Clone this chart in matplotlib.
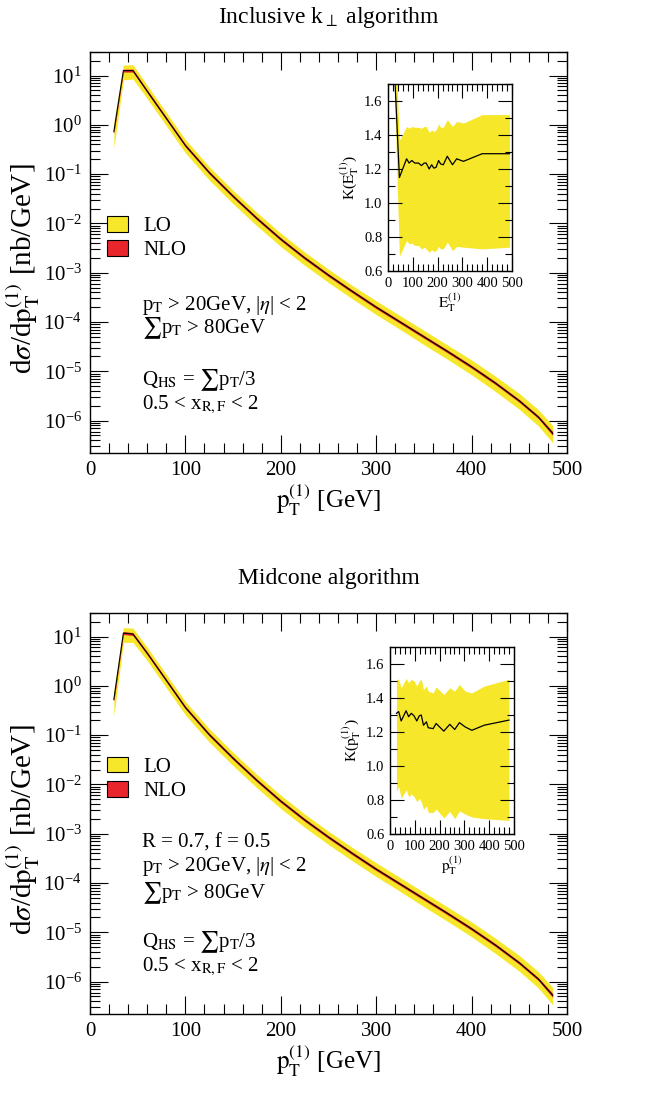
import matplotlib
matplotlib.use("Agg")
import numpy as np
import matplotlib.pyplot as plt
from matplotlib.patches import Patch
from matplotlib.ticker import (MultipleLocator, LogLocator, LogFormatterMathtext,
                               NullFormatter, FormatStrFormatter)

plt.rcParams['font.family'] = ['Liberation Serif', 'DejaVu Serif']
plt.rcParams['mathtext.fontset'] = 'stix'

YELLOW = '#f6e72a'
RED = '#e8262b'

# leading jet pT bins [GeV]
pt = [25, 35, 45, 60, 80, 100, 125, 150, 175, 200, 225, 250, 275, 300,
      325, 350, 375, 400, 425, 450, 470, 485]

# log10 of NLO dsigma/dpT [nb/GeV], inclusive kT
kt_nlo = [-0.14, 1.10, 1.10, 0.68, 0.13, -0.42, -0.97, -1.45, -1.90, -2.32,
          -2.70, -3.05, -3.38, -3.70, -4.00, -4.30, -4.60, -4.91, -5.24,
          -5.60, -5.93, -6.26]
# log10 of NLO dsigma/dpT [nb/GeV], midcone
mc_nlo = [-0.28, 1.07, 1.05, 0.66, 0.11, -0.44, -0.99, -1.47, -1.92, -2.34,
          -2.72, -3.07, -3.40, -3.72, -4.02, -4.32, -4.62, -4.93, -5.26,
          -5.62, -5.95, -6.28]

# LO scale band, decades above / below the NLO line
lo_up = [0.20, 0.11, 0.12, 0.12, 0.12, 0.12, 0.12, 0.12, 0.12, 0.12, 0.12,
         0.12, 0.12, 0.13, 0.13, 0.13, 0.13, 0.14, 0.14, 0.15, 0.15, 0.16]
lo_dn = [0.33, 0.19, 0.17, 0.15, 0.15, 0.15, 0.15, 0.15, 0.15, 0.15, 0.15,
         0.15, 0.15, 0.15, 0.15, 0.16, 0.16, 0.16, 0.17, 0.17, 0.18, 0.19]
# NLO scale band half width in decades
nlo_w = [0.04, 0.03, 0.03, 0.03, 0.03, 0.03, 0.03, 0.03, 0.03, 0.03, 0.03,
         0.03, 0.03, 0.03, 0.03, 0.03, 0.03, 0.03, 0.03, 0.03, 0.03, 0.04]

# K factor, inclusive kT
kt_kx = [27, 46, 75, 85, 96, 108, 123, 135, 146, 154, 166, 176, 185, 194,
         204, 212, 223, 239, 260, 277, 304, 380, 490]
kt_k = [1.75, 1.15, 1.26, 1.235, 1.25, 1.235, 1.235, 1.22, 1.235, 1.235,
        1.20, 1.225, 1.205, 1.21, 1.25, 1.23, 1.225, 1.275, 1.225, 1.26,
        1.245, 1.29, 1.29]
kt_k_hi = [2.0, 1.37, 1.45, 1.44, 1.45, 1.445, 1.445, 1.44, 1.45, 1.45,
           1.415, 1.43, 1.42, 1.43, 1.465, 1.445, 1.445, 1.49, 1.45, 1.48,
           1.47, 1.52, 1.52]
kt_k_lo = [1.6, 0.687, 0.78, 0.76, 0.765, 0.75, 0.75, 0.73, 0.74, 0.73,
           0.71, 0.725, 0.715, 0.72, 0.745, 0.73, 0.73, 0.77, 0.72, 0.745,
           0.74, 0.73, 0.74]

# K factor, midcone
mc_kx = [26, 35, 45, 65, 75, 86, 97, 108, 118, 126, 135, 147, 154, 174, 186,
         217, 241, 261, 280, 303, 330, 380, 480]
mc_k = [1.31, 1.32, 1.265, 1.325, 1.29, 1.31, 1.295, 1.265, 1.295, 1.30,
        1.24, 1.26, 1.225, 1.22, 1.25, 1.205, 1.245, 1.215, 1.255, 1.23,
        1.21, 1.24, 1.27]
mc_k_hi = [1.51, 1.51, 1.46, 1.515, 1.49, 1.51, 1.50, 1.47, 1.50, 1.51,
           1.45, 1.47, 1.44, 1.43, 1.465, 1.42, 1.46, 1.44, 1.48, 1.44,
           1.43, 1.47, 1.51]
mc_k_lo = [0.852, 0.88, 0.81, 0.86, 0.82, 0.835, 0.82, 0.79, 0.81, 0.79,
           0.746, 0.765, 0.727, 0.727, 0.746, 0.695, 0.733, 0.69, 0.736,
           0.717, 0.70, 0.69, 0.68]

W, H = 648, 1094
fig = plt.figure(figsize=(W / 100, H / 100), dpi=100)


def px_axes(x0, y0, x1, y1):
    return fig.add_axes([x0 / W, 1 - y1 / H, (x1 - x0) / W, (y1 - y0) / H])


def style_ticks(ax, size, major_len, minor_len):
    ax.tick_params(which='both', direction='in', top=True, right=True,
                   labelsize=size, width=0.8, pad=6)
    ax.tick_params(which='major', length=major_len)
    ax.tick_params(which='minor', length=minor_len)
    for s in ax.spines.values():
        s.set_linewidth(1.0)


def spectrum(ax, nlo, title, notes, leg_top):
    x = np.array(pt)
    y = np.array(nlo)
    ax.fill_between(x, 10 ** (y + np.array(lo_up)), 10 ** (y - np.array(lo_dn)),
                    color=YELLOW, lw=0)
    ax.fill_between(x, 10 ** (y + np.array(nlo_w)), 10 ** (y - np.array(nlo_w)),
                    color=RED, lw=0)
    ax.plot(x, 10 ** y, color='black', lw=0.8)
    ax.set_yscale('log')
    ax.set_xlim(0, 500)
    ax.set_ylim(2.2e-7, 30)
    ax.xaxis.set_major_locator(MultipleLocator(100))
    ax.xaxis.set_minor_locator(MultipleLocator(20))
    ax.yaxis.set_major_locator(LogLocator(base=10, numticks=20))
    ax.yaxis.set_minor_locator(LogLocator(base=10, subs=np.arange(2, 10), numticks=20))
    ax.yaxis.set_major_formatter(LogFormatterMathtext())
    ax.yaxis.set_minor_formatter(NullFormatter())
    style_ticks(ax, 15, 13, 7)
    ax.set_xlabel(r'$\mathrm{p_T^{(1)}}$ [GeV]', fontsize=18, labelpad=2)
    ax.set_ylabel(r'd$\sigma$/d$\mathrm{p_T^{(1)}}$ [nb/GeV]', fontsize=21)
    ax.yaxis.set_label_coords(-0.1, 0.46)
    ax.set_title(title, fontsize=17, pad=21)

    handles = [Patch(facecolor=YELLOW, edgecolor='black', lw=0.8, label='LO'),
               Patch(facecolor=RED, edgecolor='black', lw=0.8, label='NLO')]
    ax.legend(handles=handles, loc='upper left', bbox_to_anchor=(0.036, leg_top),
              frameon=False, fontsize=15, handlelength=1.0, handleheight=0.8,
              handletextpad=0.75, labelspacing=0.2, borderaxespad=0,
              borderpad=0)
    for (yy, txt) in notes:
        ax.text(0.109, yy, txt, transform=ax.transAxes, fontsize=15,
                va='center', ha='left')


def kfactor(ax, x, k, hi, lo, xlab):
    ax.fill_between(x, hi, lo, color=YELLOW, lw=0)
    ax.plot(x, k, color='black', lw=0.9)
    ax.set_xlim(0, 500)
    ax.set_ylim(0.6, 1.7)
    ax.xaxis.set_major_locator(MultipleLocator(100))
    ax.xaxis.set_minor_locator(MultipleLocator(20))
    ax.yaxis.set_major_locator(MultipleLocator(0.2))
    ax.yaxis.set_minor_locator(MultipleLocator(0.1))
    ax.yaxis.set_major_formatter(FormatStrFormatter('%.1f'))
    style_ticks(ax, 10.5, 10, 5)
    ax.tick_params(pad=4)
    ax.set_xlabel(xlab, fontsize=11, labelpad=1)
    ax.set_ylabel('K(' + xlab + ')', fontsize=11, labelpad=2)


notes_kt = [
    (0.369, r'p$_\mathrm{T}$ > 20GeV, |$\eta$| < 2'),
    (0.312, r'$\sum$p$_\mathrm{T}$ > 80GeV'),
    (0.182, r'Q$_\mathrm{HS}$ = $\sum$p$_\mathrm{T}$/3'),
    (0.120, r'0.5 < x$_\mathrm{R,F}$ < 2'),
]
notes_mc = [
    (0.426, 'R = 0.7, f = 0.5'),
    (0.369, r'p$_\mathrm{T}$ > 20GeV, |$\eta$| < 2'),
    (0.302, r'$\sum$p$_\mathrm{T}$ > 80GeV'),
    (0.180, r'Q$_\mathrm{HS}$ = $\sum$p$_\mathrm{T}$/3'),
    (0.117, r'0.5 < x$_\mathrm{R,F}$ < 2'),
]

ax1 = px_axes(90, 52, 567, 453)
spectrum(ax1, kt_nlo, r'Inclusive k$_\perp$ algorithm', notes_kt, 0.592)
in1 = px_axes(388, 84, 512, 271)
kfactor(in1, kt_kx, kt_k, kt_k_hi, kt_k_lo, r'$\mathrm{E_T^{(1)}}$')

ax2 = px_axes(90, 613, 567, 1014)
spectrum(ax2, mc_nlo, 'Midcone algorithm', notes_mc, 0.642)
in2 = px_axes(390, 647, 514, 834)
kfactor(in2, mc_kx, mc_k, mc_k_hi, mc_k_lo, r'$\mathrm{p_T^{(1)}}$')

fig.savefig('out.png', dpi=100)
